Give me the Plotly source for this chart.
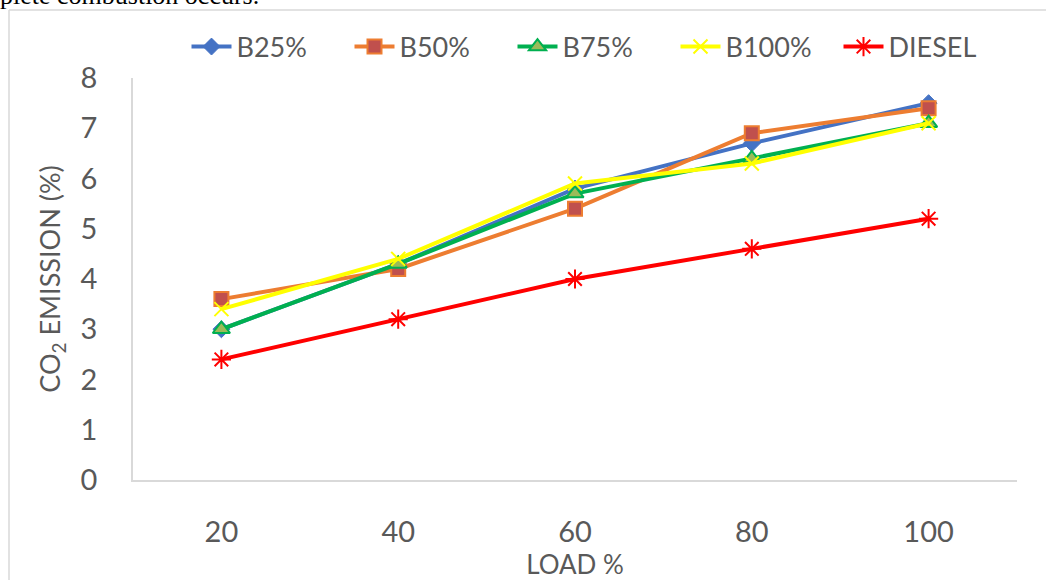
import plotly.graph_objects as go

# Engine load (%) and CO2 emission (%) for each fuel blend
loads = ["20", "40", "60", "80", "100"]
b25 = [3.0, 4.3, 5.8, 6.7, 7.5]
b50 = [3.6, 4.2, 5.4, 6.9, 7.4]
b75 = [3.0, 4.3, 5.7, 6.4, 7.1]
b100 = [3.4, 4.4, 5.9, 6.3, 7.1]
diesel = [2.4, 3.2, 4.0, 4.6, 5.2]

FONT = "Lato, 'Open Sans', sans-serif"
GREY = "#595959"

series = [
    ("B25%", b25, "#4472C4", dict(symbol="diamond", size=13, color="#4472C4",
                                  line=dict(color="#4472C4", width=1))),
    ("B50%", b50, "#ED7D31", dict(symbol="square", size=14, color="#C0504D",
                                  line=dict(color="#ED7D31", width=2))),
    ("B75%", b75, "#00B050", dict(symbol="triangle-up", size=15, color="#9BBB59",
                                  line=dict(color="#00B050", width=2))),
    ("B100%", b100, "#FFFF00", dict(symbol="x-thin-open", size=14, color="#FFFF00",
                                    line=dict(color="#FFFF00", width=2))),
    ("DIESEL", diesel, "#FF0000", dict(symbol="asterisk-open", size=16, color="#FF0000",
                                       line=dict(color="#FF0000", width=2))),
]

fig = go.Figure()
for name, vals, col, mk in series:
    fig.add_trace(go.Scatter(
        x=loads, y=vals, name=name, mode="lines+markers",
        line=dict(color=col, width=4), marker=mk,
    ))

# plot area: left 133, right 1017, top 78, bottom 480 (px)
L, R, T, B = 133, 29, 78, 100
W, H = 1046, 580
pw, ph = W - L - R, H - T - B

def px(x):
    return (x - L) / pw

def py(y):
    return (H - B - y) / ph

fig.update_layout(
    width=W, height=H,
    margin=dict(l=L, r=R, t=T, b=B, autoexpand=False),
    paper_bgcolor="white", plot_bgcolor="white",
    font=dict(family=FONT, color=GREY),
    showlegend=True,
    legend=dict(
        orientation="h", x=px(594), xanchor="center", y=py(47), yanchor="middle",
        font=dict(size=27, color=GREY), itemwidth=40, tracegroupgap=0,
        entrywidth=108, entrywidthmode="pixels",
        bgcolor="rgba(0,0,0,0)",
    ),
    xaxis=dict(
        type="category", range=[-0.5, 4.5], automargin=False,
        showgrid=False, showline=True, linecolor="#D9D9D9", linewidth=1.5,
        ticks="", tickfont=dict(size=29, color=GREY), ticklabelstandoff=25,
        title=dict(text="LOAD %", font=dict(size=26, color=GREY), standoff=14),
        zeroline=False,
    ),
    yaxis=dict(
        range=[0, 8], dtick=1, automargin=False,
        showgrid=False, showline=True, linecolor="#D9D9D9", linewidth=1.5,
        ticks="", tickfont=dict(size=29, color=GREY), ticklabelstandoff=28,
        title=dict(text="CO<sub>2</sub> EMISSION (%)", font=dict(size=27, color=GREY),
                   standoff=12),
        zeroline=False,
    ),
    shapes=[
        dict(type="line", xref="paper", yref="paper",
             x0=px(9), x1=px(1060), y0=py(10), y1=py(10),
             line=dict(color="#D9D9D9", width=1.5)),
        dict(type="line", xref="paper", yref="paper",
             x0=px(9), x1=px(9), y0=py(10), y1=py(600),
             line=dict(color="#D9D9D9", width=1.5)),
    ],
    annotations=[
        dict(text="plete combustion occurs.", xref="paper", yref="paper",
             x=px(-2), y=py(12), xanchor="left", yanchor="bottom", showarrow=False,
             font=dict(family="'Liberation Serif', 'Times New Roman', serif",
                       size=26, color="black")),
    ],
)

fig.write_html("out.html")
